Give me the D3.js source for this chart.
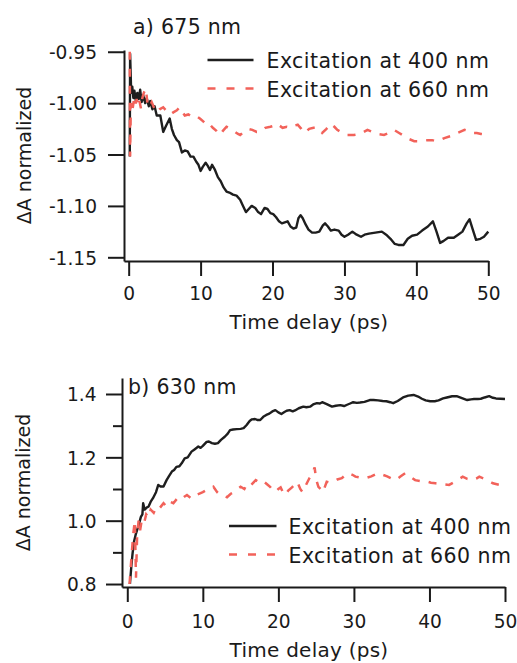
<!DOCTYPE html>
<html><head><meta charset="utf-8">
<script src="https://cdn.jsdelivr.net/npm/d3@7"></script>
<style>html,body{margin:0;padding:0;background:#fff;}svg{display:block;}</style>
</head><body>
<svg id="c" width="517" height="663"></svg>
<script>
// ---------- data ----------
const xTicks = [0, 10, 20, 30, 40, 50];
const aYTicks = [-0.95, -1.00, -1.05, -1.10, -1.15];
const bYTicks = [0.8, 1.0, 1.2, 1.4];
const bYMinorTicks = [0.9, 1.1, 1.3];
const titles = ["a) 675 nm", "b) 630 nm"];
const seriesNames = ["Excitation at 400 nm", "Excitation at 660 nm"];
const xLabel = "Time delay (ps)";
const yLabel = "\u0394A normalized";

// panel a, 675 nm, excitation 400 nm  [time ps, ΔA]
const a400 = [[0.15,-1.052],[0.2,-0.952],[0.35,-0.99],[0.5,-0.984],[0.65,-0.995],[0.8,-0.988],[1.0,-0.998],[1.2,-0.99],[1.4,-0.996],[1.6,-0.987],[1.8,-0.999],[2.0,-0.992],[2.3,-1.0],[2.5,-0.995],[2.8,-1.003],[3.0,-0.998],[3.3,-1.006],[3.6,-1.003],[3.9,-1.012],[4.4,-1.012],[4.8,-1.028],[5.2,-1.022],[5.7,-1.015],[6.0,-1.025],[6.3,-1.031],[6.7,-1.036],[7.0,-1.038],[7.4,-1.048],[7.8,-1.046],[8.2,-1.047],[8.6,-1.052],[9.0,-1.052],[9.4,-1.057],[9.7,-1.06],[10.0,-1.066],[10.3,-1.062],[10.7,-1.058],[11.0,-1.061],[11.3,-1.065],[11.6,-1.06],[12.0,-1.065],[12.4,-1.072],[12.8,-1.076],[13.2,-1.082],[13.6,-1.086],[14.0,-1.087],[14.5,-1.089],[15.0,-1.09],[15.5,-1.094],[15.9,-1.1],[16.3,-1.106],[16.7,-1.103],[17.1,-1.1],[17.6,-1.102],[18.0,-1.106],[18.4,-1.108],[18.9,-1.102],[19.3,-1.103],[19.7,-1.107],[20.1,-1.108],[20.5,-1.111],[20.9,-1.115],[21.3,-1.117],[21.7,-1.116],[22.1,-1.115],[22.5,-1.12],[22.9,-1.122],[23.3,-1.121],[23.6,-1.112],[23.9,-1.109],[24.2,-1.112],[24.6,-1.118],[25.0,-1.123],[25.5,-1.126],[26.0,-1.126],[26.5,-1.125],[27.0,-1.119],[27.3,-1.117],[27.7,-1.12],[28.1,-1.124],[28.6,-1.123],[29.2,-1.124],[29.6,-1.128],[30.0,-1.13],[30.5,-1.128],[31.1,-1.125],[31.7,-1.128],[32.3,-1.13],[32.8,-1.128],[33.4,-1.127],[34.3,-1.126],[35.2,-1.125],[35.8,-1.128],[36.4,-1.132],[37.0,-1.137],[37.5,-1.138],[38.2,-1.138],[38.8,-1.132],[39.4,-1.129],[40.1,-1.128],[40.8,-1.124],[41.6,-1.12],[42.3,-1.115],[42.8,-1.125],[43.3,-1.136],[43.8,-1.134],[44.4,-1.131],[45.2,-1.131],[45.8,-1.128],[46.4,-1.125],[47.0,-1.117],[47.4,-1.113],[47.8,-1.122],[48.3,-1.133],[48.9,-1.132],[49.4,-1.13],[50.0,-1.125]];

// panel a, 675 nm, excitation 660 nm
const a660 = [[0.15,-0.95],[0.2,-1.052],[0.3,-1.0],[0.5,-1.008],[0.7,-0.998],[0.9,-1.004],[1.1,-0.996],[1.3,-1.003],[1.5,-0.998],[1.7,-1.005],[1.9,-0.995],[2.1,-0.99],[2.4,-0.986],[2.6,-1.0],[2.9,-1.004],[3.2,-0.999],[3.5,-1.004],[3.9,-1.009],[4.3,-1.006],[4.8,-1.004],[5.3,-1.008],[5.8,-1.011],[6.2,-1.009],[6.7,-1.007],[7.1,-1.004],[7.5,-1.009],[7.8,-1.012],[8.3,-1.011],[8.7,-1.013],[9.3,-1.012],[9.9,-1.015],[10.4,-1.018],[10.8,-1.021],[11.2,-1.02],[11.7,-1.024],[12.2,-1.027],[12.7,-1.031],[13.1,-1.027],[13.6,-1.023],[14.2,-1.025],[14.8,-1.028],[15.2,-1.03],[15.5,-1.031],[16.0,-1.028],[16.6,-1.025],[17.2,-1.026],[17.8,-1.028],[18.3,-1.028],[19.0,-1.024],[19.7,-1.023],[20.2,-1.022],[20.6,-1.02],[21.0,-1.022],[21.4,-1.024],[22.0,-1.023],[22.5,-1.024],[23.0,-1.022],[23.5,-1.021],[24.0,-1.025],[24.4,-1.029],[24.8,-1.027],[25.1,-1.025],[25.7,-1.024],[26.3,-1.024],[26.9,-1.029],[27.5,-1.025],[28.1,-1.02],[28.6,-1.023],[29.0,-1.026],[29.7,-1.029],[30.4,-1.031],[31.3,-1.031],[32.2,-1.03],[32.7,-1.028],[33.2,-1.026],[33.9,-1.028],[34.6,-1.03],[35.5,-1.031],[36.2,-1.029],[36.9,-1.026],[37.6,-1.029],[38.3,-1.032],[39.0,-1.035],[39.7,-1.037],[40.6,-1.037],[41.6,-1.036],[42.2,-1.036],[42.7,-1.037],[43.3,-1.036],[43.9,-1.034],[44.8,-1.032],[45.7,-1.029],[46.7,-1.026],[47.3,-1.027],[47.8,-1.029],[48.4,-1.029],[49.0,-1.03],[50.0,-1.031]];

// panel b, 630 nm, excitation 400 nm
const b400 = [[0.35,0.80],[0.55,0.86],[0.7,0.897],[0.9,0.935],[1.1,0.955],[1.3,0.971],[1.5,0.985],[1.8,1.012],[2.0,1.02],[2.1,1.055],[2.3,1.035],[2.6,1.042],[2.8,1.044],[3.1,1.06],[3.4,1.071],[3.8,1.09],[4.1,1.113],[4.4,1.108],[4.8,1.108],[5.2,1.128],[5.5,1.14],[5.9,1.155],[6.2,1.16],[6.5,1.17],[6.9,1.172],[7.2,1.181],[7.6,1.197],[8.0,1.2],[8.5,1.218],[8.9,1.225],[9.4,1.234],[9.7,1.23],[10.0,1.236],[10.5,1.249],[10.8,1.25],[11.2,1.245],[11.6,1.243],[12.0,1.245],[12.4,1.255],[12.9,1.265],[13.3,1.275],[13.6,1.286],[14.0,1.288],[14.5,1.289],[15.0,1.29],[15.4,1.292],[15.8,1.302],[16.2,1.315],[16.5,1.32],[16.9,1.321],[17.2,1.318],[17.6,1.318],[18.0,1.328],[18.4,1.334],[18.8,1.338],[19.2,1.345],[19.6,1.349],[20.0,1.342],[20.4,1.337],[20.8,1.343],[21.1,1.347],[21.5,1.349],[21.9,1.345],[22.2,1.348],[22.7,1.355],[23.3,1.36],[23.7,1.358],[24.2,1.36],[24.6,1.367],[25.1,1.371],[25.5,1.37],[25.8,1.374],[26.4,1.368],[27.1,1.36],[27.6,1.363],[28.2,1.365],[28.7,1.362],[29.1,1.366],[29.5,1.37],[29.9,1.374],[30.4,1.372],[30.8,1.373],[31.4,1.375],[32.1,1.381],[32.6,1.381],[33.2,1.38],[33.8,1.378],[34.3,1.377],[34.8,1.374],[35.2,1.371],[35.8,1.378],[36.5,1.389],[37.2,1.395],[37.9,1.397],[38.5,1.392],[39.0,1.385],[39.5,1.38],[40.1,1.377],[40.7,1.377],[41.2,1.38],[41.8,1.386],[42.3,1.389],[43.0,1.393],[43.6,1.393],[44.3,1.387],[45.0,1.381],[45.5,1.383],[45.9,1.384],[46.4,1.384],[46.8,1.385],[47.3,1.389],[47.9,1.393],[48.4,1.388],[48.8,1.386],[49.4,1.385],[50.0,1.384]];

// panel b, 630 nm, excitation 660 nm
const b660 = [[0.3,0.80],[0.6,0.90],[0.8,0.96],[1.0,1.0],[1.15,0.82],[1.3,0.95],[1.5,1.0],[1.7,0.97],[1.9,1.0],[2.2,0.99],[2.5,1.02],[2.8,1.01],[3.1,1.035],[3.5,1.025],[3.9,1.045],[4.3,1.04],[4.8,1.055],[5.2,1.045],[5.6,1.06],[6.1,1.055],[6.6,1.07],[7.0,1.065],[7.5,1.075],[7.9,1.081],[8.5,1.07],[9.0,1.08],[9.4,1.084],[10.0,1.09],[10.5,1.097],[11.0,1.1],[11.4,1.107],[11.9,1.09],[12.3,1.081],[12.8,1.078],[13.2,1.074],[13.7,1.085],[14.1,1.09],[14.6,1.1],[15.0,1.107],[15.5,1.1],[15.9,1.118],[16.4,1.113],[17.0,1.128],[17.5,1.12],[18.0,1.125],[18.5,1.115],[18.9,1.107],[19.3,1.095],[19.6,1.091],[20.0,1.1],[20.3,1.105],[20.6,1.09],[20.9,1.081],[21.3,1.095],[21.8,1.105],[22.2,1.115],[22.5,1.123],[22.9,1.1],[23.2,1.09],[23.6,1.11],[24.1,1.134],[24.5,1.15],[24.8,1.168],[25.0,1.13],[25.3,1.107],[25.6,1.1],[25.9,1.09],[26.2,1.11],[26.4,1.123],[26.9,1.12],[27.3,1.123],[27.8,1.13],[28.4,1.134],[28.9,1.145],[29.3,1.15],[29.8,1.145],[30.2,1.139],[30.8,1.136],[31.5,1.134],[32.3,1.14],[33.2,1.15],[33.8,1.145],[34.4,1.14],[35.0,1.133],[35.5,1.128],[36.2,1.14],[36.8,1.15],[37.4,1.14],[38.1,1.128],[38.8,1.125],[39.5,1.125],[40.2,1.12],[40.8,1.118],[41.7,1.115],[42.6,1.113],[43.5,1.125],[44.4,1.139],[45.0,1.132],[45.7,1.128],[46.2,1.133],[46.6,1.139],[47.5,1.13],[48.4,1.118],[49.3,1.113],[50.0,1.12]];

// ---------- drawing ----------
const FONT = "'DejaVu Sans', Verdana, sans-serif";
const INK = "#1a1a1a";
const BLACK = "#1e1e1e";
const RED = "#f2625a";
const DASH = "8,9";

const svg = d3.select("#c");

const panels = [
  { title: titles[0], s400: a400, s660: a660,
    x: d3.scaleLinear().domain([-0.65, 50]).range([124, 488.3]),
    y: d3.scaleLinear().domain([-1.1536, -0.9483]).range([261, 50]),
    yTicks: aYTicks, yMinor: [], yFmt: d => d.toFixed(2),
    titlePos: [133, 33.5], legX: [207.5, 253.5], legTextX: 266.5, legY: [60, 88.5],
    xLabY: 329, xTickBase: 39, yTickPad: 11, yLabX: 31, xLabX: 309 },
  { title: titles[1], s400: b400, s660: b660,
    x: d3.scaleLinear().domain([-0.7, 50]).range([122, 505]),
    y: d3.scaleLinear().domain([0.7906, 1.4505]).range([587, 378]),
    yTicks: bYTicks, yMinor: bYMinorTicks, yFmt: d => d.toFixed(1),
    titlePos: [128, 393.5], legX: [229, 276.5], legTextX: 288.5, legY: [526, 554.5],
    xLabY: 656.5, xTickBase: 41, yTickPad: 9.5, yLabX: 30, xLabX: 309 }
];

panels.forEach(p => {
  const g = svg.append("g");
  const [x0, x1] = p.x.range();
  const [y0, y1] = p.y.range();

  // x axis
  const gx = g.append("g").attr("transform", `translate(0,${y0})`)
    .call(d3.axisBottom(p.x).tickValues(xTicks).tickSize(15).tickSizeOuter(0).tickFormat(d3.format("d")));
  gx.selectAll("text").attr("y", p.xTickBase).attr("dy", null);

  // y axis
  const gy = g.append("g").attr("transform", `translate(${x0},0)`)
    .call(d3.axisLeft(p.y).tickValues(p.yTicks).tickSize(16).tickSizeOuter(0).tickPadding(p.yTickPad).tickFormat(p.yFmt));
  gy.selectAll("text").attr("dy", "0.36em");
  if (p.yMinor.length) {
    const gm = g.append("g").attr("transform", `translate(${x0},0)`)
      .call(d3.axisLeft(p.y).tickValues(p.yMinor).tickSize(9).tickFormat(""));
    gm.select(".domain").remove();
  }
  [gx, gy].forEach(a => {
    a.select(".domain").attr("stroke", INK).attr("stroke-width", 2);
    a.selectAll(".tick text").attr("font-family", FONT).attr("font-size", 18.6).attr("fill", INK);
  });
  g.selectAll(".tick line").attr("stroke", INK).attr("stroke-width", 2);

  const line = d3.line().x(d => p.x(d[0])).y(d => p.y(d[1]));

  // series
  g.append("path").datum(p.s400).attr("d", line)
    .attr("fill", "none").attr("stroke", BLACK).attr("stroke-width", 2.4).attr("stroke-linejoin", "round");
  g.append("path").datum(p.s660).attr("d", line)
    .attr("fill", "none").attr("stroke", RED).attr("stroke-width", 2.5).attr("stroke-dasharray", DASH);

  // title
  g.append("text").attr("x", p.titlePos[0]).attr("y", p.titlePos[1]).text(p.title)
    .attr("font-family", FONT).attr("font-size", 20.5).attr("letter-spacing", 0.3).attr("fill", INK);

  // legend
  [[BLACK, null], [RED, "8,11"]].forEach((st, i) => {
    g.append("line").attr("x1", p.legX[0]).attr("x2", p.legX[1])
      .attr("y1", p.legY[i]).attr("y2", p.legY[i])
      .attr("stroke", st[0]).attr("stroke-width", 2.4).attr("stroke-dasharray", st[1]);
    g.append("text").attr("x", p.legTextX).attr("y", p.legY[i] + 8).text(seriesNames[i])
      .attr("font-family", FONT).attr("font-size", 20.5).attr("letter-spacing", 0.45).attr("fill", INK);
  });

  // axis labels
  g.append("text").attr("x", p.xLabX).attr("y", p.xLabY).attr("text-anchor", "middle")
    .text(xLabel).attr("font-family", FONT).attr("font-size", 20).attr("letter-spacing", 0.25).attr("fill", INK);
  g.append("text").attr("transform", `translate(${p.yLabX},${(y0 + y1) / 2}) rotate(-90)`)
    .attr("text-anchor", "middle").text(yLabel)
    .attr("font-family", FONT).attr("font-size", 19).attr("fill", INK);
});
</script>
</body></html>
